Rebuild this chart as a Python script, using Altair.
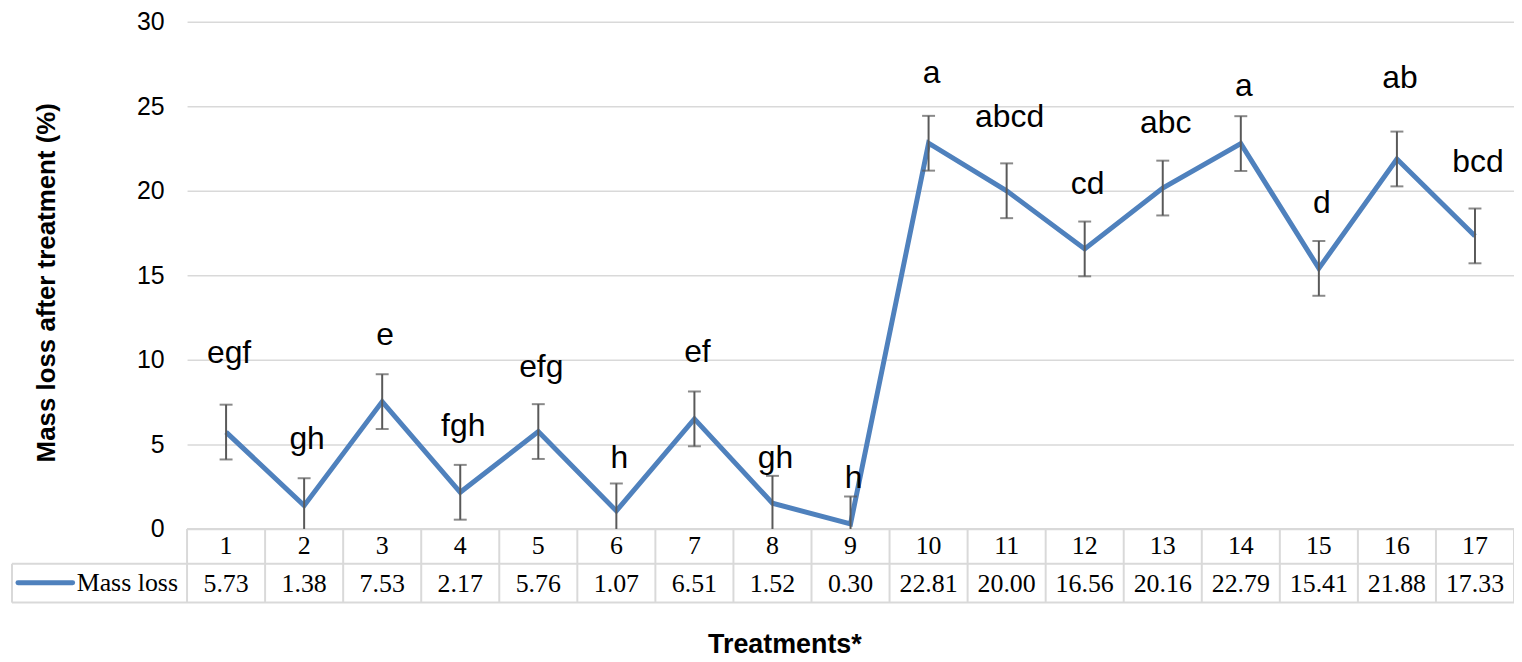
import altair as alt
import pandas as pd

treatments = list(range(1, 18))
mass_loss = [5.73, 1.38, 7.53, 2.17, 5.76, 1.07, 6.51, 1.52, 0.30,
             22.81, 20.00, 16.56, 20.16, 22.79, 15.41, 21.88, 17.33]
errors = [1.62, 1.62, 1.62, 1.62, 1.62, 1.62, 1.62, 1.62, 1.62,
          1.62, 1.62, 1.62, 1.62, 1.62, 1.62, 1.62, 1.62]
letters = ["egf", "gh", "e", "fgh", "efg", "h", "ef", "gh", "h",
           "a", "abcd", "cd", "abc", "a", "d", "ab", "bcd"]
letter_pos = [9.8, 4.7, 10.9, 5.5, 9.0, 3.6, 9.9, 3.6, 2.4,
              26.4, 23.8, 19.8, 23.4, 25.6, 18.7, 26.1, 21.1]
y_ticks = [0, 5, 10, 15, 20, 25, 30]
series_name = "Mass loss"

df = pd.DataFrame({
    "treatment": treatments,
    "mass": mass_loss,
    "err": errors,
    "letter": letters,
    "lpos": letter_pos,
})
df["hi"] = df["mass"] + df["err"]
df["lo_raw"] = df["mass"] - df["err"]
df["lo"] = df["lo_raw"].clip(lower=0)

bounds = pd.DataFrame({"b": [t - 0.5 for t in treatments] + [treatments[-1] + 0.5]})
one = pd.DataFrame({"k": [0]})

BLUE = "#4F81BD"
GRID = "#d9d9d9"
ERR = "#595959"
SANS = "Liberation Sans"
SERIF = "Liberation Serif"

W, H = 1334, 510

xs = alt.Scale(domain=[0.5, 17.5], nice=False, zero=False)
ys = alt.Scale(domain=[0, 30], nice=False)
X = alt.X("treatment:Q", scale=xs, axis=None)

line = alt.Chart(df).mark_line(color=BLUE, strokeWidth=5).encode(
    x=X,
    y=alt.Y("mass:Q", scale=ys, axis=alt.Axis(
        values=y_ticks, grid=True, gridColor=GRID, gridWidth=1.5,
        ticks=False, domain=False, labelFont=SANS, labelFontSize=25,
        labelColor="black", labelPadding=23,
        title="Mass loss after treatment (%)", titleFont=SANS,
        titleFontSize=26, titleFontWeight="bold", titleColor="black",
        titleX=-141, titleY=262, titleAngle=270, titleAlign="center",
        titleBaseline="middle")),
)

err_rule = alt.Chart(df).mark_rule(color=ERR, strokeWidth=2).encode(
    x=X, y=alt.Y("lo:Q", scale=ys, axis=None), y2="hi:Q")
cap_hi = alt.Chart(df).mark_tick(color=ERR, orient="horizontal", size=13, thickness=2).encode(
    x=X, y=alt.Y("hi:Q", scale=ys, axis=None))
cap_lo = alt.Chart(df).transform_filter("datum.lo_raw > 0").mark_tick(
    color=ERR, orient="horizontal", size=13, thickness=2).encode(
    x=X, y=alt.Y("lo:Q", scale=ys, axis=None))

labels = alt.Chart(df).mark_text(font=SANS, fontSize=32, color="black",
                                 baseline="alphabetic", align="center", dx=3).encode(
    x=X, y=alt.Y("lpos:Q", scale=ys, axis=None), text="letter:N")

# data table below the plot
vlines = alt.Chart(bounds).mark_rule(color=GRID, strokeWidth=2).encode(
    x=alt.X("b:Q", scale=xs, axis=None), y=alt.value(H), y2=alt.value(584))
left_v = alt.Chart(one).mark_rule(color=GRID, strokeWidth=2).encode(
    x=alt.value(-176), y=alt.value(545), y2=alt.value(584))
top_h = alt.Chart(one).mark_rule(color=GRID, strokeWidth=2).encode(
    x=alt.value(0), x2=alt.value(W), y=alt.value(H))
mid_h = alt.Chart(one).mark_rule(color=GRID, strokeWidth=2).encode(
    x=alt.value(-176), x2=alt.value(W), y=alt.value(545))
bot_h = alt.Chart(one).mark_rule(color=GRID, strokeWidth=2).encode(
    x=alt.value(-176), x2=alt.value(W), y=alt.value(584))

row1 = alt.Chart(df).mark_text(font=SERIF, fontSize=26, color="black",
                               baseline="alphabetic", align="center").encode(
    x=X, y=alt.value(535), text="treatment:N")
row2 = alt.Chart(df).mark_text(font=SERIF, fontSize=26, color="black",
                               baseline="alphabetic", align="center").encode(
    x=X, y=alt.value(573), text=alt.Text("mass:Q", format=".2f"))

legend_line = alt.Chart(one).mark_rule(color=BLUE, strokeWidth=5, strokeCap="round").encode(
    x=alt.value(-170), x2=alt.value(-115), y=alt.value(564))
legend_text = alt.Chart(pd.DataFrame({"name": [series_name]})).mark_text(
    font=SERIF, fontSize=26, color="black", baseline="alphabetic", align="left").encode(
    x=alt.value(-111), y=alt.value(572), text="name:N")

x_title = alt.Chart(pd.DataFrame({"t": ["Treatments*"]})).mark_text(
    font=SANS, fontSize=27, fontWeight="bold", color="black",
    baseline="alphabetic", align="center").encode(
    x=alt.value(601), y=alt.value(635), text="t:N")

chart = alt.layer(
    line, vlines, left_v, top_h, mid_h, bot_h,
    err_rule, cap_hi, cap_lo, labels,
    row1, row2, legend_line, legend_text, x_title,
).resolve_axis(y="independent").properties(
    width=W, height=H,
    autosize=alt.AutoSizeParams(type="none"),
    padding={"left": 180, "top": 12, "right": 0, "bottom": 130},
    background="white",
).configure_view(stroke=None)

chart.save("out.html", embed_options={"renderer": "svg", "actions": False})
